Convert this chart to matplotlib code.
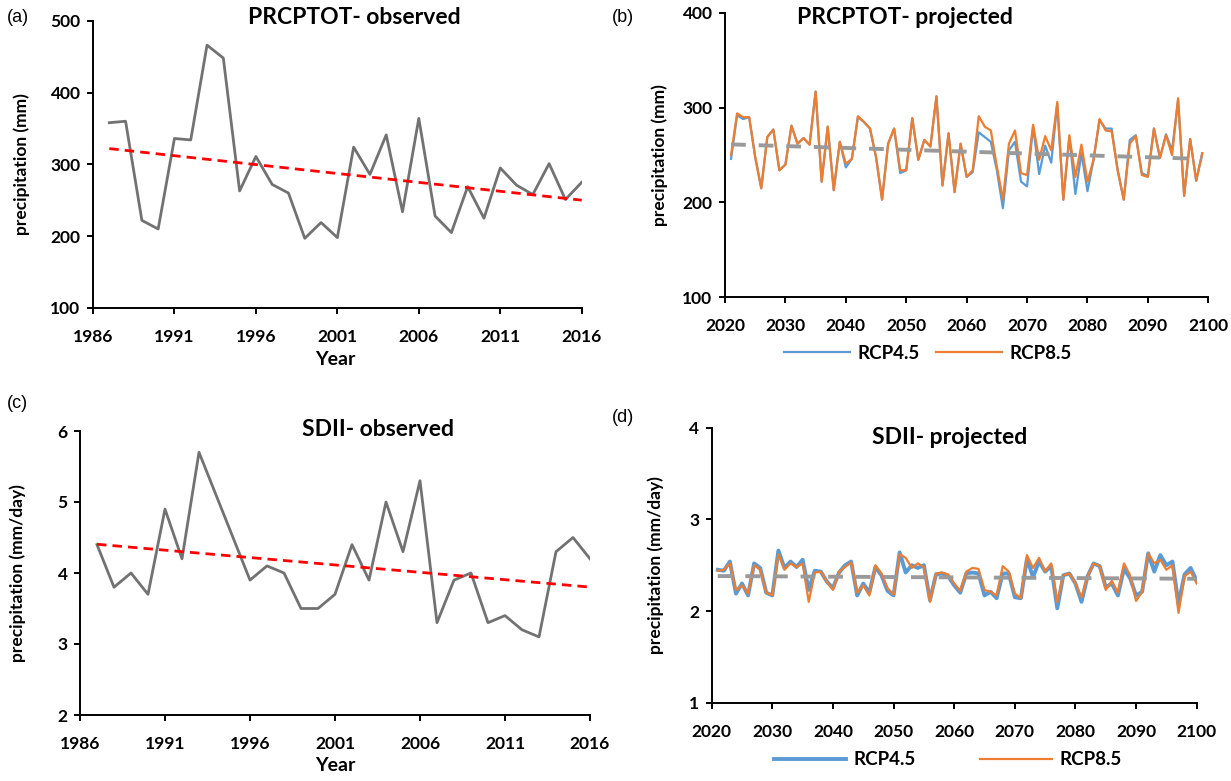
import numpy as np
import matplotlib
import matplotlib.pyplot as plt

matplotlib.use('agg')

plt.rcParams['font.family'] = ['Lato', 'DejaVu Sans']
plt.rcParams['font.weight'] = 'bold'

# observed series
obs_years = np.arange(1987, 2017)
prcptot_obs = [358, 360, 222, 210, 336, 334, 466, 448, 263, 311, 272, 260, 197, 219, 198,
               324, 286, 341, 234, 364, 228, 205, 269, 225, 295, 271, 258, 301, 251, 275]
sdii_obs = [4.4, 3.8, 4.0, 3.7, 4.9, 4.2, 5.7, 5.1, 4.5, 3.9, 4.1, 4.0, 3.5, 3.5, 3.7,
            4.4, 3.9, 5.0, 4.3, 5.3, 3.3, 3.9, 4.0, 3.3, 3.4, 3.2, 3.1, 4.3, 4.5, 4.2]

# projected PRCPTOT, 2021-2099
prj_years_b = np.arange(2021, 2100)
prcptot_rcp45 = [246, 292, 288, 290, 248, 215, 269, 277, 234, 240, 281, 262, 268, 261, 317, 222,
                 280, 213, 264, 237, 246, 290, 285, 278, 248, 203, 262, 278, 231, 234, 289, 245,
                 266, 259, 312, 218, 273, 211, 262, 227, 232, 274, 269, 264, 234, 194, 255, 264,
                 222, 217, 280, 230, 260, 242, 304, 203, 269, 209, 252, 212, 245, 287, 278, 278,
                 234, 203, 266, 271, 231, 228, 278, 247, 272, 255, 308, 207, 267, 223, 252]
prcptot_rcp85 = [250, 294, 290, 290, 248, 215, 269, 277, 234, 240, 281, 262, 268, 261, 317, 222,
                 280, 213, 264, 241, 246, 291, 285, 278, 248, 203, 262, 278, 234, 234, 289, 245,
                 266, 259, 312, 218, 273, 211, 262, 227, 234, 291, 280, 276, 238, 203, 262, 276,
                 231, 229, 282, 245, 270, 255, 306, 203, 271, 227, 261, 222, 245, 288, 276, 275,
                 234, 203, 262, 270, 229, 227, 278, 247, 271, 250, 310, 207, 267, 223, 252]

# projected SDII, 2021-2100
prj_years_d = np.arange(2021, 2101)
sdii_rcp45 = [2.45, 2.44, 2.54, 2.19, 2.30, 2.17, 2.52, 2.47, 2.20, 2.17, 2.66, 2.47, 2.54, 2.48,
              2.56, 2.23, 2.44, 2.43, 2.32, 2.25, 2.42, 2.50, 2.54, 2.17, 2.30, 2.20, 2.48, 2.39,
              2.22, 2.17, 2.64, 2.42, 2.50, 2.47, 2.50, 2.12, 2.40, 2.41, 2.38, 2.28, 2.20, 2.41,
              2.42, 2.41, 2.17, 2.21, 2.14, 2.41, 2.41, 2.15, 2.14, 2.57, 2.37, 2.54, 2.43, 2.49,
              2.03, 2.39, 2.41, 2.30, 2.10, 2.38, 2.52, 2.49, 2.26, 2.30, 2.17, 2.46, 2.36, 2.17,
              2.21, 2.63, 2.43, 2.61, 2.50, 2.54, 2.08, 2.40, 2.47, 2.33]
sdii_rcp85 = [2.44, 2.45, 2.52, 2.23, 2.28, 2.19, 2.50, 2.45, 2.20, 2.17, 2.62, 2.45, 2.52, 2.48,
              2.52, 2.10, 2.42, 2.43, 2.32, 2.23, 2.43, 2.48, 2.53, 2.20, 2.28, 2.17, 2.50, 2.41,
              2.25, 2.18, 2.62, 2.58, 2.47, 2.52, 2.48, 2.10, 2.41, 2.42, 2.40, 2.30, 2.22, 2.43,
              2.47, 2.46, 2.23, 2.21, 2.17, 2.49, 2.43, 2.19, 2.14, 2.61, 2.47, 2.58, 2.43, 2.52,
              2.10, 2.39, 2.41, 2.30, 2.15, 2.38, 2.52, 2.49, 2.23, 2.33, 2.20, 2.52, 2.39, 2.11,
              2.21, 2.63, 2.52, 2.56, 2.45, 2.50, 1.98, 2.38, 2.43, 2.30]

W, H = 1231, 781
fig = plt.figure(figsize=(W / 100, H / 100), dpi=100)


def px_axes(left, top, right, bottom):
    return fig.add_axes([left / W, 1 - bottom / H, (right - left) / W, (bottom - top) / H])


def style(ax):
    for s in ['top', 'right']:
        ax.spines[s].set_visible(False)
    for s in ['left', 'bottom']:
        ax.spines[s].set_linewidth(1.4)
    ax.tick_params(direction='out', length=4, width=1.4, labelsize=12.5)
    ax.tick_params(axis='x', pad=11)
    ax.tick_params(axis='y', pad=5)
    for lab in ax.get_xticklabels() + ax.get_yticklabels():
        lab.set_fontweight('bold')


def trend(x, y):
    k, b = np.polyfit(x, y, 1)
    return k * np.asarray(x) + b


gray = '#727272'
blue = '#5b9bd5'
orange = '#ed7d31'
tgray = '#9a9a9a'
label_kw = dict(fontsize=12.5, fontweight='bold')
leg_prop = {'size': 13.5, 'weight': 'bold'}

# (a)
ax = px_axes(93, 20.7, 581.7, 308)
ax.plot(obs_years, prcptot_obs, color=gray, lw=2.0)
ax.plot(obs_years, trend(obs_years, prcptot_obs), color='red', lw=2.0, dashes=(3.4, 2.2))
ax.set_xlim(1986, 2016)
ax.set_ylim(100, 500)
ax.set_xticks(np.arange(1986, 2017, 5))
ax.set_yticks(np.arange(100, 501, 100))
style(ax)
ax.set_ylabel('precipitation (mm)', **label_kw)
ax.yaxis.set_label_coords(-0.129, 0.5)
ax.set_xlabel('Year', fontsize=14, fontweight='bold')
ax.xaxis.set_label_coords(0.495, -0.15)

# (b)
ax = px_axes(725, 12.9, 1208.3, 297.3)
ax.plot(prj_years_b, prcptot_rcp45, color=blue, lw=1.6, label='RCP4.5')
ax.plot(prj_years_b, prcptot_rcp85, color=orange, lw=1.6, label='RCP8.5')
ax.plot(prj_years_b, trend(prj_years_b, prcptot_rcp45), color=tgray, lw=2.8, dashes=(3.8, 3.3))
ax.set_xlim(2020, 2100)
ax.set_ylim(100, 400)
ax.set_xticks(np.arange(2020, 2101, 10))
ax.set_yticks(np.arange(100, 401, 100))
style(ax)
ax.set_ylabel('precipitation (mm)', **label_kw)
ax.yaxis.set_label_coords(-0.117, 0.5)
h = ax.get_legend_handles_labels()
ax.legend(h[0], h[1], loc='center', bbox_to_anchor=(0.42, -0.196), ncol=2, frameon=False,
          handlelength=3.5, columnspacing=0.9, handletextpad=0.4, prop=leg_prop)

# (c)
ax = px_axes(80, 431, 590, 715)
ax.plot(obs_years, sdii_obs, color=gray, lw=2.0)
ax.plot(obs_years, trend(obs_years, sdii_obs), color='red', lw=2.0, dashes=(3.4, 2.2))
ax.set_xlim(1986, 2016)
ax.set_ylim(2, 6)
ax.set_xticks(np.arange(1986, 2017, 5))
ax.set_yticks(np.arange(2, 7, 1))
style(ax)
ax.set_ylabel('precipitation (mm/day)', **label_kw)
ax.yaxis.set_label_coords(-0.106, 0.5)
ax.set_xlabel('Year', fontsize=14, fontweight='bold')
ax.xaxis.set_label_coords(0.5, -0.148)

# (d)
ax = px_axes(711.7, 427.7, 1196.7, 702.7)
ax.plot(prj_years_d, sdii_rcp45, color=blue, lw=2.8, label='RCP4.5')
ax.plot(prj_years_d, sdii_rcp85, color=orange, lw=1.6, label='RCP8.5')
ax.plot(prj_years_d, trend(prj_years_d, sdii_rcp45), color=tgray, lw=2.8, dashes=(3.8, 3.3))
ax.set_xlim(2020, 2100)
ax.set_ylim(1, 4)
ax.set_xticks(np.arange(2020, 2101, 10))
ax.set_yticks(np.arange(1, 5, 1))
style(ax)
ax.set_ylabel('precipitation (mm/day)', **label_kw)
ax.yaxis.set_label_coords(-0.098, 0.5)
h = ax.get_legend_handles_labels()
ax.legend(h[0], h[1], loc='center', bbox_to_anchor=(0.487, -0.207), ncol=2, frameon=False,
          handlelength=3.85, columnspacing=3.4, handletextpad=0.4, prop=leg_prop)

# titles and panel letters
title_kw = dict(fontsize=16.5, fontweight='bold', ha='center', va='center')
fig.text(354 / W, 1 - 18 / H, 'PRCPTOT- observed', **title_kw)
fig.text(905 / W, 1 - 18 / H, 'PRCPTOT- projected', **title_kw)
fig.text(378 / W, 1 - 430 / H, 'SDII- observed', **title_kw)
fig.text(950 / W, 1 - 438 / H, 'SDII- projected', **title_kw)

lab_kw = dict(fontsize=13, fontweight='normal', ha='left', va='center', family='Liberation Sans')
fig.text(7 / W, 1 - 18 / H, '(a)', **lab_kw)
fig.text(612 / W, 1 - 18 / H, '(b)', **lab_kw)
fig.text(7 / W, 1 - 403 / H, '(c)', **lab_kw)
fig.text(612 / W, 1 - 418 / H, '(d)', **lab_kw)

fig.savefig('out.png', dpi=100)
